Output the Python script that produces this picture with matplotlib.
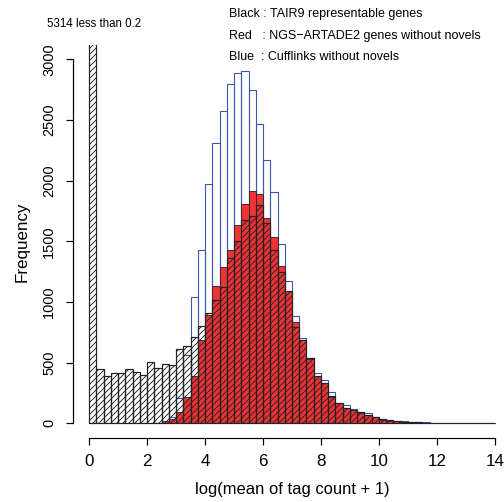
import numpy as np
import matplotlib
matplotlib.use('Agg')
import matplotlib.pyplot as plt

# histogram bins: 0 to 14 by 0.25
bin_edges = np.arange(0, 14.001, 0.25)

# TAIR9 representable genes (black, hatched)
tair9 = [5314, 445, 390, 412, 412, 450, 423, 395, 503, 453,
         489, 478, 612, 636, 709, 800, 908, 1016, 1121, 1360,
         1503, 1676, 1706, 1799, 1654, 1428, 1246, 1090, 796, 690,
         535, 391, 334, 222, 168, 130, 112, 92, 70, 52,
         33, 25, 19, 14, 10, 8, 6, 5, 4, 3,
         2, 2, 1, 1, 1, 0]

# NGS-ARTADE2 genes without novels (red)
ngs = [0, 0, 0, 0, 0, 0, 0, 0, 0, 0,
       22, 33, 96, 214, 393, 684, 896, 1132, 1286, 1428,
       1633, 1806, 1913, 1888, 1689, 1533, 1296, 1088, 832, 688,
       530, 388, 330, 218, 165, 128, 110, 90, 66, 50,
       32, 24, 18, 13, 9, 7, 5, 4, 3, 2,
       1, 1, 1, 0, 0, 0]

# Cufflinks without novels (blue outline)
cufflinks = [0, 0, 0, 0, 0, 0, 0, 0, 0, 0,
             8, 55, 206, 560, 1045, 1428, 1972, 2307, 2576, 2800,
             2887, 2900, 2750, 2466, 2167, 1904, 1475, 1175, 882, 707,
             538, 417, 354, 261, 172, 150, 118, 95, 82, 57,
             36, 27, 21, 16, 12, 10, 8, 7, 6, 5,
             4, 3, 3, 2, 1, 1]

y_ticks = [0, 500, 1000, 1500, 2000, 2500, 3000]
x_ticks = [0, 2, 4, 6, 8, 10, 12, 14]

legend_lines = ["Black : TAIR9 representable genes",
                "Red   : NGS\u2212ARTADE2 genes without novels",
                "Blue  : Cufflinks without novels"]

plt.rcParams['font.family'] = ['Liberation Sans', 'DejaVu Sans']
plt.rcParams['hatch.linewidth'] = 0.9

fig = plt.figure(figsize=(7.0, 502 / 72), dpi=72)
ax = fig.add_axes([73 / 504, (502 - 438) / 502, 438 / 504, (438 - 44.7) / 502])

left = bin_edges[:-1]
width = 0.25

ax.bar(left, cufflinks, width=width, align='edge', facecolor='none',
       edgecolor='#3a56b0', linewidth=1.1, zorder=1)
ax.bar(left, ngs, width=width, align='edge', facecolor='#ee3236',
       edgecolor='#2a2a2a', linewidth=0.9, zorder=2)
ax.bar(left, tair9, width=width, align='edge', facecolor='none',
       edgecolor='#222222', hatch='////', linewidth=1.2, zorder=3)

ax.set_xlim(-0.56, 14.56)
ax.set_ylim(-120, 3120)

for side in ['top', 'right']:
    ax.spines[side].set_visible(False)
ax.spines['left'].set_bounds(0, 3000)
ax.spines['bottom'].set_bounds(0, 14)
ax.spines['left'].set_linewidth(1.2)
ax.spines['bottom'].set_linewidth(1.2)

ax.set_yticks(y_ticks)
ax.set_yticklabels([str(v) for v in y_ticks], rotation=90, va='center')
ax.set_xticks(x_ticks)
ax.set_xticklabels([str(v) for v in x_ticks])
ax.tick_params(axis='y', length=7, width=1.2, pad=10, labelsize=14.5)
ax.tick_params(axis='x', length=7, width=1.2, pad=9, labelsize=17)

ax.set_xlabel('log(mean of tag count + 1)', fontsize=16.5, labelpad=13)
ax.set_ylabel('Frequency', fontsize=17, labelpad=12)

fig.text(94 / 504, 1 - 24 / 502, '5314 less than 0.2', fontsize=11.5,
         ha='center', va='center')
for i, line in enumerate(legend_lines):
    fig.text(229 / 504, 1 - (14 + 21.5 * i) / 502, line, fontsize=12.5,
             ha='left', va='center')

fig.savefig('out.png', dpi=72)
